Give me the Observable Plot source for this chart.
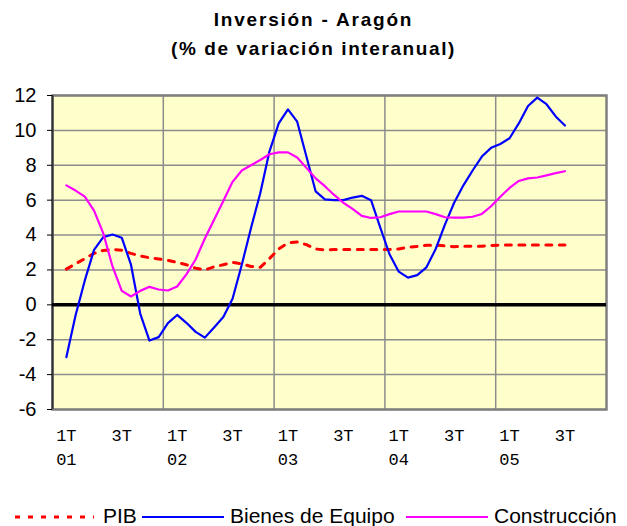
<!DOCTYPE html>
<html>
<head>
<meta charset="utf-8">
<script src="https://cdn.jsdelivr.net/npm/d3@7"></script>
<script src="https://cdn.jsdelivr.net/npm/@observablehq/plot@0.6"></script>
<style>
  body { margin: 0; background: #fff; }
  #wrap { position: relative; width: 627px; height: 526px; overflow: hidden; font-family: "Liberation Sans", Arial, sans-serif; }
  #chart { position: absolute; left: 0; top: 0; }
  .ttl { position: absolute; left: 0; width: 627px; text-align: center; font-weight: bold; font-size: 19px; line-height: 19px; color: #000; }
  .lgt { position: absolute; font-size: 21px; line-height: 21px; color: #000; white-space: nowrap; }
  .lgs { position: absolute; }
</style>
</head>
<body>
<div id="wrap">
  <div id="chart"></div>
  <div class="ttl" style="top:10px; letter-spacing:1.8px;">Inversión - Aragón</div>
  <div class="ttl" style="top:39px; letter-spacing:1.6px;">(% de variación interanual)</div>
  <div id="legend"></div>
</div>
<script>
// Month index (0 = January 2001)
const months = [1,2,3,4,5,6,7,8,9,10,11,12,13,14,15,16,17,18,19,20,21,22,23,24,25,26,27,28,29,30,
  31,32,33,34,35,36,37,38,39,40,41,42,43,44,45,46,47,48,49,50,51,52,53,54,55];

const pib = [2.05,2.35,2.65,2.95,3.12,3.17,3.13,2.95,2.8,2.7,2.63,2.55,2.43,2.3,2.1,2.0,2.18,2.3,2.43,2.35,
  2.2,2.15,2.65,3.2,3.55,3.6,3.45,3.2,3.15,3.17,3.17,3.17,3.17,3.17,3.17,3.17,3.2,3.3,3.35,3.42,
  3.42,3.38,3.33,3.35,3.36,3.36,3.4,3.43,3.43,3.43,3.43,3.43,3.43,3.43,3.43];

const equipo = [-3.0,-0.6,1.4,3.15,3.88,4.03,3.85,2.3,-0.5,-2.05,-1.85,-1.05,-0.58,-1.03,-1.55,-1.88,-1.3,-0.7,0.35,2.3,
  4.4,6.4,8.8,10.4,11.2,10.5,8.5,6.5,6.05,6.0,6.0,6.15,6.25,6.0,4.43,2.9,1.9,1.56,1.7,2.15,
  3.2,4.6,5.85,6.85,7.7,8.5,9.0,9.22,9.55,10.4,11.4,11.88,11.5,10.8,10.28];

const construccion = [6.85,6.55,6.2,5.4,4.1,2.2,0.8,0.48,0.8,1.03,0.88,0.82,1.05,1.75,2.6,3.8,4.88,5.95,7.05,7.7,
  8.0,8.3,8.63,8.74,8.74,8.45,7.85,7.25,6.8,6.3,5.85,5.5,5.1,4.98,5.02,5.2,5.35,5.35,5.35,5.35,
  5.2,5.02,5.0,5.0,5.05,5.21,5.65,6.2,6.7,7.1,7.25,7.3,7.42,7.55,7.66];

const yTicks = [-6,-4,-2,0,2,4,6,8,10,12];
const yearBounds = [11.5, 23.5, 35.5, 47.5];
const quarterTickPos = [1,7,13,19,25,31,37,43,49,55];
const quarterLabels = ["1T","3T","1T","3T","1T","3T","1T","3T","1T","3T"];
const yearTickPos = [1,13,25,37,49];
const yearLabels = ["01","02","03","04","05"];

const seriesNames = ["PIB", "Bienes de Equipo", "Construcción"];
const seriesColors = ["#FF0000", "#0000FF", "#FF00FF"];

const rows = months.map((m, i) => ({m, pib: pib[i], eq: equipo[i], con: construccion[i]}));

const chart = Plot.plot({
  width: 627,
  height: 480,
  marginTop: 95,
  marginBottom: 71,
  marginLeft: 52,
  marginRight: 21,
  style: {background: "transparent", overflow: "visible"},
  x: {domain: [-0.5, 59.5]},
  y: {domain: [-6, 12]},
  marks: [
    Plot.frame({fill: "#FFFFCC", stroke: null}),
    Plot.ruleY(yTicks, {stroke: "#8c8c8c", strokeWidth: 1.5}),
    Plot.ruleX(yearBounds, {stroke: "#8c8c8c", strokeWidth: 1.5}),
    Plot.frame({stroke: "#808080", strokeWidth: 2.5}),
    Plot.ruleX([-0.5], {stroke: "#333", strokeWidth: 2}),
    Plot.ruleY([0], {stroke: "#000", strokeWidth: 3.5}),
    Plot.line(rows, {x: "m", y: "pib", stroke: seriesColors[0], strokeWidth: 3, strokeDasharray: "6,7.5"}),
    Plot.line(rows, {x: "m", y: "eq", stroke: seriesColors[1], strokeWidth: 2.2}),
    Plot.line(rows, {x: "m", y: "con", stroke: seriesColors[2], strokeWidth: 2.2}),
    Plot.axisY({ticks: yTicks, tickSize: 5, tickPadding: 11, tickFormat: d => String(d),
      fontSize: 20, fontFamily: "Liberation Sans, Arial, sans-serif", color: "#000", label: null}),
    Plot.axisX({ticks: quarterTickPos, tickSize: 0, tickPadding: 19,
      tickFormat: (d) => quarterLabels[quarterTickPos.indexOf(d)],
      fontSize: 17, fontFamily: "Liberation Mono, monospace", color: "#000", label: null}),
    Plot.axisX({ticks: yearTickPos, tickSize: 0, tickPadding: 43,
      tickFormat: (d) => yearLabels[yearTickPos.indexOf(d)],
      fontSize: 17, fontFamily: "Liberation Mono, monospace", color: "#000", label: null})
  ]
});
document.getElementById("chart").appendChild(chart);

// Legend
const lg = document.getElementById("legend");
const legendItems = [
  {name: seriesNames[0], color: seriesColors[0], x1: 15, x2: 94, tx: 103, dash: "5,8", w: 3},
  {name: seriesNames[1], color: seriesColors[1], x1: 142, x2: 224, tx: 230, dash: null, w: 2.2},
  {name: seriesNames[2], color: seriesColors[2], x1: 406, x2: 488, tx: 494, dash: null, w: 2.2}
];
for (const it of legendItems) {
  const ns = "http://www.w3.org/2000/svg";
  const s = document.createElementNS(ns, "svg");
  s.setAttribute("class", "lgs");
  s.setAttribute("width", it.x2 - it.x1);
  s.setAttribute("height", 10);
  s.style.left = it.x1 + "px";
  s.style.top = "512px";
  const l = document.createElementNS(ns, "line");
  l.setAttribute("x1", 0); l.setAttribute("x2", it.x2 - it.x1);
  l.setAttribute("y1", 5); l.setAttribute("y2", 5);
  l.setAttribute("stroke", it.color);
  l.setAttribute("stroke-width", it.w);
  if (it.dash) l.setAttribute("stroke-dasharray", it.dash);
  s.appendChild(l);
  lg.appendChild(s);
  const t = document.createElement("div");
  t.className = "lgt";
  t.style.left = it.tx + "px";
  t.style.top = "505px";
  t.textContent = it.name;
  lg.appendChild(t);
}
</script>
</body>
</html>
